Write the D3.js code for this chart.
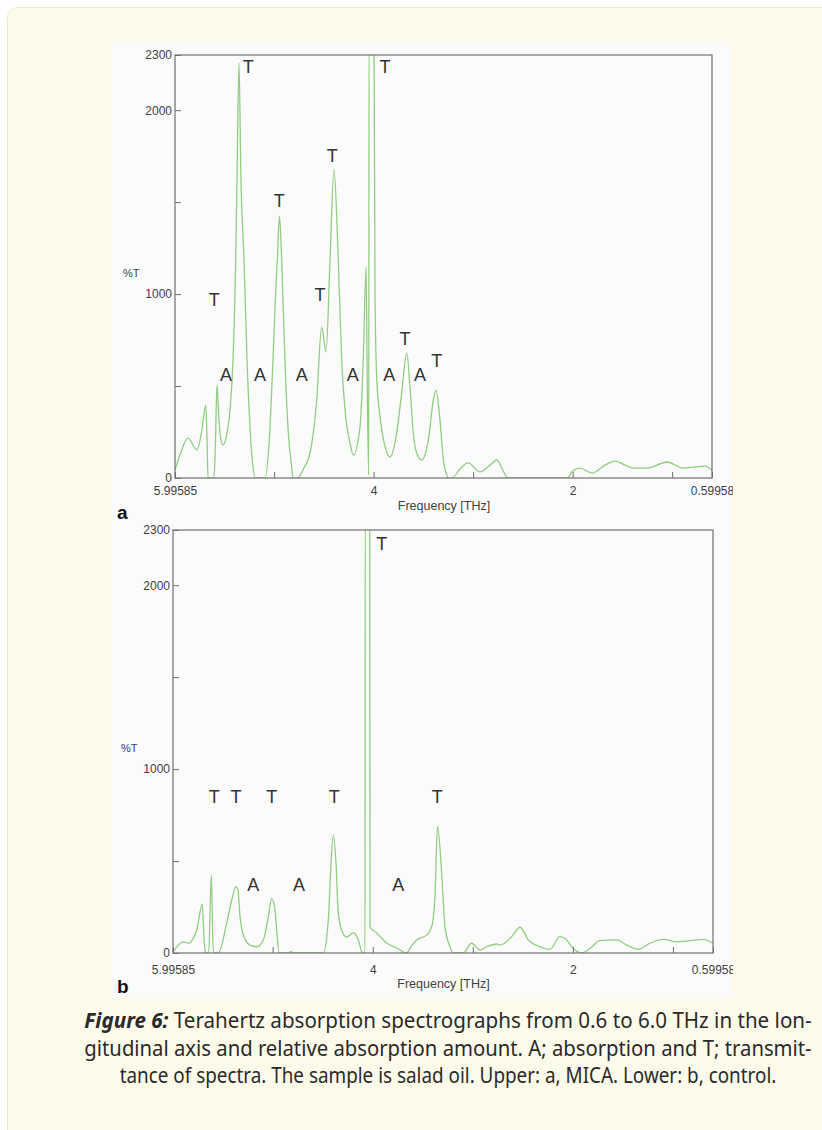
<!DOCTYPE html>
<html>
<head>
<meta charset="utf-8">
<script src="https://cdn.jsdelivr.net/npm/d3@7"></script>
<style>
  body { margin: 0; background: #fff; }
  svg { display: block; }
</style>
</head>
<body>
<script>
// spectrum a (MICA): [frequency THz, %T]
const spectrumA = [
  [5.996, 43], [5.946, 125], [5.865, 217], [5.775, 152], [5.725, 261], [5.687, 397], [5.674, 207],
  [5.664, 0], [5.604, 0], [5.589, 207], [5.574, 506], [5.554, 315], [5.534, 207], [5.513, 179],
  [5.473, 245], [5.443, 370], [5.413, 642], [5.386, 1185], [5.373, 1620], [5.353, 2257], [5.333, 1620],
  [5.302, 1185], [5.272, 642], [5.242, 277], [5.212, 60], [5.192, 0], [5.091, 0], [5.041, 277],
  [5.011, 642], [4.984, 1006], [4.968, 1185], [4.946, 1425], [4.924, 1185], [4.891, 642], [4.861, 277],
  [4.823, 60], [4.810, 0], [4.760, 0], [4.710, 45], [4.639, 136], [4.572, 424], [4.522, 821],
  [4.478, 685], [4.438, 1185], [4.398, 1680], [4.355, 1185], [4.321, 642], [4.287, 370], [4.237, 190],
  [4.204, 125], [4.137, 277], [4.104, 642], [4.076, 1147], [4.063, 462], [4.049, 16], [4.046, 2400],
  [3.996, 2400], [3.986, 1000], [3.969, 549], [3.935, 332], [3.885, 169], [3.835, 114], [3.768, 245],
  [3.718, 462], [3.667, 680], [3.634, 495], [3.601, 245], [3.567, 136], [3.517, 98], [3.450, 207],
  [3.400, 424], [3.373, 478], [3.333, 315], [3.299, 98], [3.265, 16], [3.252, 0], [3.212, 0],
  [3.132, 49], [3.051, 82], [2.931, 33], [2.830, 70], [2.760, 98], [2.700, 40], [2.649, 0],
  [2.056, 0], [1.996, 40], [1.926, 54], [1.805, 27], [1.675, 70], [1.574, 92], [1.474, 70],
  [1.393, 54], [1.252, 54], [1.051, 87], [0.890, 54], [0.770, 60], [0.669, 65], [0.599, 43]
];

// spectrum b (control)
const spectrumB = [
  [5.993, 7], [5.893, 61], [5.843, 53], [5.759, 125], [5.703, 266], [5.683, 54], [5.669, 0],
  [5.639, 0], [5.613, 424], [5.593, 0], [5.543, 0], [5.459, 163], [5.409, 288], [5.369, 359],
  [5.349, 350], [5.326, 197], [5.293, 98], [5.226, 43], [5.160, 34], [5.093, 71], [5.043, 197],
  [5.010, 297], [4.977, 234], [4.960, 125], [4.934, 0], [4.847, 0], [4.817, 8], [4.787, 0],
  [4.494, 0], [4.444, 179], [4.420, 451], [4.394, 640], [4.367, 489], [4.344, 217], [4.310, 125],
  [4.260, 87], [4.194, 109], [4.144, 71], [4.110, 7], [4.094, 0], [4.077, 0], [4.075, 2400],
  [4.030, 2400], [4.027, 143], [3.960, 109], [3.860, 54], [3.760, 27], [3.660, 0], [3.628, 27],
  [3.561, 71], [3.461, 98], [3.411, 143], [3.378, 306], [3.353, 690], [3.311, 435], [3.278, 143],
  [3.228, 34], [3.195, 0], [3.095, 0], [3.011, 53], [2.928, 16], [2.861, 34], [2.761, 49],
  [2.728, 43], [2.611, 89], [2.528, 140], [2.445, 71], [2.329, 34], [2.229, 20], [2.129, 89],
  [2.079, 80], [1.996, 25], [1.912, 0], [1.829, 25], [1.729, 67], [1.562, 71], [1.462, 43],
  [1.346, 20], [1.229, 53], [1.096, 74], [0.963, 61], [0.829, 67], [0.696, 74], [0.600, 53]
];

// peak annotations: [letter, frequency, %T]
const labelsA = [
  ["T", 5.260, 2236], ["T", 3.885, 2236], ["T", 4.948, 1508], ["T", 4.415, 1756],
  ["T", 5.601, 972], ["T", 4.539, 1000], ["T", 3.685, 761], ["T", 3.366, 638],
  ["A", 5.483, 560], ["A", 5.142, 560], ["A", 4.723, 560], ["A", 4.210, 560],
  ["A", 3.842, 560], ["A", 3.534, 560]
];
const labelsB = [
  ["T", 3.910, 2228], ["T", 5.583, 850], ["T", 5.366, 850], ["T", 5.010, 850],
  ["T", 4.384, 850], ["T", 3.355, 850],
  ["A", 5.193, 375], ["A", 4.737, 375], ["A", 3.744, 375]
];

const xDomain = [5.99585, 0.59958];
const xTicks = [5.99585, 5, 4, 3, 2, 1, 0.59958];
const xTickLabels = ["5.99585", "", "4", "", "2", "", "0.59958"];
const yTicks = [0, 500, 1000, 1500, 2000, 2300];
const yTickLabels = ["0", "", "1000", "", "2000", "2300"];

const captionLines = [
  " Terahertz absorption spectrographs from 0.6 to 6.0 THz in the lon-",
  "gitudinal axis and relative absorption amount. A; absorption and T; transmit-",
  "tance of spectra. The sample is salad oil. Upper: a, MICA. Lower: b, control."
];

const width = 822;
const height = 1130;
const green = "#92cc82";
const axisFont = "'Liberation Sans', Arial, sans-serif";

const svg = d3.select("body").append("svg")
    .attr("width", width)
    .attr("height", height);

// card
svg.append("rect")
    .attr("x", 7.5).attr("y", 7.5)
    .attr("width", 850).attr("height", 1160)
    .attr("rx", 10)
    .attr("fill", "#fffbea")
    .attr("stroke", "#ebe7d6");

// scanned figure area
const scan = { x: 112, y: 41, w: 621, h: 957 };
const defs = svg.append("defs");
defs.append("clipPath").attr("id", "scan")
  .append("rect")
    .attr("x", scan.x).attr("y", scan.y)
    .attr("width", scan.w).attr("height", scan.h);

svg.append("rect")
    .attr("x", scan.x).attr("y", scan.y)
    .attr("width", scan.w).attr("height", scan.h)
    .attr("fill", "#fbfbfb");

function drawPanel(cfg) {
    const g = svg.append("g").attr("clip-path", "url(#scan)");

    const x = d3.scaleLinear().domain(xDomain).range([cfg.left, cfg.right]);
    const y = d3.scaleLinear().domain([0, 2300]).range([cfg.bottom, cfg.top]);

    defs.append("clipPath").attr("id", "plot-" + cfg.name)
      .append("rect")
        .attr("x", cfg.left).attr("y", cfg.top)
        .attr("width", cfg.right - cfg.left).attr("height", cfg.bottom - cfg.top);

    const line = d3.line()
        .x(d => x(d[0]))
        .y(d => y(d[1]))
        .curve(d3.curveMonotoneX);

    g.append("path")
        .datum(cfg.data)
        .attr("clip-path", `url(#plot-${cfg.name})`)
        .attr("d", line)
        .attr("fill", "none")
        .attr("stroke", green)
        .attr("stroke-width", 1.3);

    // axes (ticks point inward)
    const xAxis = g.append("g")
        .attr("transform", `translate(0,${cfg.bottom})`)
        .call(d3.axisBottom(x)
            .tickValues(xTicks)
            .tickFormat((d, i) => xTickLabels[i])
            .tickSizeInner(-6)
            .tickSizeOuter(0)
            .tickPadding(cfg.xPad));

    const yAxis = g.append("g")
        .attr("transform", `translate(${cfg.left},0)`)
        .call(d3.axisLeft(y)
            .tickValues(yTicks)
            .tickFormat((d, i) => yTickLabels[i])
            .tickSizeInner(-6)
            .tickSizeOuter(0)
            .tickPadding(3));

    [xAxis, yAxis].forEach(a => {
        a.select(".domain").remove();
        a.selectAll("line").attr("stroke", "#6e6e6e");
        a.selectAll("text")
            .attr("fill", "#3f3f3f")
            .style("font-size", "12px")
            .style("font-family", axisFont);
    });

    // frame
    g.append("rect")
        .attr("x", cfg.left).attr("y", cfg.top)
        .attr("width", cfg.right - cfg.left).attr("height", cfg.bottom - cfg.top)
        .attr("fill", "none")
        .attr("stroke", "#707070")
        .attr("stroke-width", 1.2);

    g.selectAll("text.peak")
        .data(cfg.labels)
        .join("text")
        .attr("class", "peak")
        .attr("x", d => x(d[1]))
        .attr("y", d => y(d[2]))
        .attr("dy", "0.36em")
        .attr("text-anchor", "middle")
        .attr("fill", "#333")
        .style("font-size", "18px")
        .style("font-family", axisFont)
        .text(d => d[0]);

    g.append("text")
        .attr("x", cfg.left - 52)
        .attr("y", cfg.top + 218)
        .attr("dy", "0.35em")
        .attr("fill", "#3f3f3f")
        .style("font-size", "11px")
        .style("font-family", axisFont)
        .text("%T");

    g.append("text")
        .attr("x", (cfg.left + cfg.right) / 2 + 0.5)
        .attr("y", cfg.bottom + cfg.titleOffset)
        .attr("dy", "0.35em")
        .attr("text-anchor", "middle")
        .attr("fill", "#3f3f3f")
        .style("font-size", "12.5px")
        .style("font-family", axisFont)
        .text("Frequency [THz]");

    g.append("text")
        .attr("x", 117)
        .attr("y", cfg.bottom + cfg.letterOffset)
        .attr("dy", "0.35em")
        .attr("fill", "#111")
        .style("font-size", "19px")
        .style("font-weight", "bold")
        .style("font-family", axisFont)
        .text(cfg.name);
}

drawPanel({ name: "a", data: spectrumA, labels: labelsA,
    left: 175, right: 712, top: 55, bottom: 478, xPad: 8, titleOffset: 28, letterOffset: 34 });
drawPanel({ name: "b", data: spectrumB, labels: labelsB,
    left: 173, right: 713, top: 530, bottom: 953, xPad: 12, titleOffset: 31, letterOffset: 33 });

// caption, squeezed to the column width like the condensed original
const capCenter = 448;
const capY = [1028, 1056, 1083];
const capWidth = [728, 728, 657];
captionLines.forEach((txt, i) => {
    const t = svg.append("text")
        .attr("text-anchor", "middle")
        .attr("fill", "#2a2a2a")
        .style("font-size", "21px")
        .style("font-family", "'Noto Sans', 'Open Sans', sans-serif");
    if (i === 0) {
        t.append("tspan")
            .style("font-weight", "bold")
            .style("font-style", "italic")
            .text("Figure 6:");
    }
    t.append("tspan").text(txt);
    const w = t.node().getComputedTextLength();
    t.attr("transform", `translate(${capCenter},${capY[i]}) scale(${capWidth[i] / w},1)`);
});
</script>
</body>
</html>
